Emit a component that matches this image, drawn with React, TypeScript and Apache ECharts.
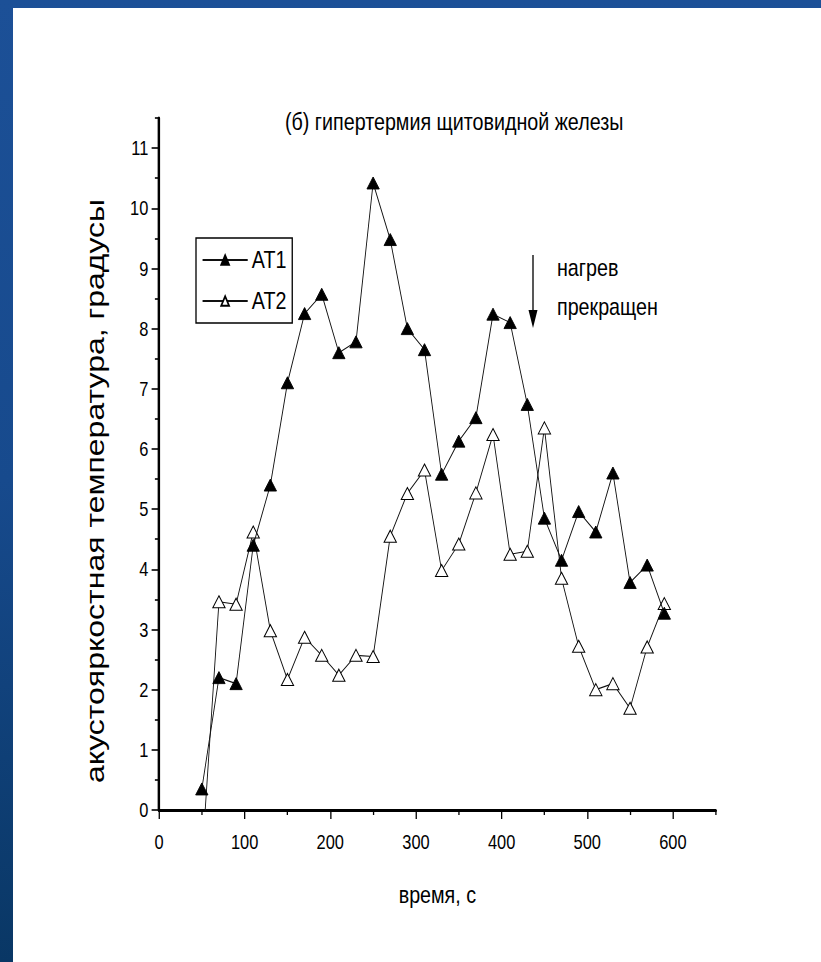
import React, { useEffect, useRef } from "react";
import * as echarts from "echarts";

const times = [50, 70, 90, 110, 130, 150, 170, 190, 210, 230, 250, 270, 290, 310, 330, 350, 370, 390, 410, 430, 450, 470, 490, 510, 530, 550, 570, 590];
const at1 = [0.35, 2.2, 2.1, 4.4, 5.4, 7.1, 8.25, 8.57, 7.6, 7.78, 10.42, 9.48, 8.0, 7.65, 5.58, 6.13, 6.52, 8.24, 8.1, 6.74, 4.85, 4.15, 4.96, 4.62, 5.6, 3.78, 4.07, 3.27];
const at2 = [-0.85, 3.46, 3.42, 4.62, 2.98, 2.17, 2.87, 2.57, 2.24, 2.57, 2.55, 4.55, 5.26, 5.65, 3.98, 4.42, 5.27, 6.24, 4.25, 4.3, 6.35, 3.85, 2.72, 2.0, 2.1, 1.69, 2.71, 3.43];
const xMajorTicks = [0, 100, 200, 300, 400, 500, 600];
const xMinorTicks = [50, 150, 250, 350, 450, 550, 650];
const yMajorTicks = [0, 1, 2, 3, 4, 5, 6, 7, 8, 9, 10, 11];
const yMinorTicks = [0.5, 1.5, 2.5, 3.5, 4.5, 5.5, 6.5, 7.5, 8.5, 9.5, 10.5, 11.5];
const seriesNames = ["AT1", "AT2"];
const titleText = "(б) гипертермия щитовидной железы";
const xName = "время, с";
const yName = "акустояркостная температура, градусы";
const noteLines = ["нагрев", "прекращен"];

// the original figure is horizontally compressed; draw in a wider frame and squeeze it
const SX = 0.821;
const W = 1000;
const H = 962;
const px = (x: number) => x / SX;

const FONT = "'Liberation Sans', Arial, Helvetica, sans-serif";

export default function App() {
  const ref = useRef<HTMLDivElement>(null);
  useEffect(() => {
    if (!ref.current) return;
    const chart = echarts.init(ref.current, null, { renderer: "svg" });
    const axisCommon = { type: "value", splitLine: { show: false } };
    const tickStyle = { color: "#000", width: 1.6 };
    chart.setOption({
      animation: false,
      backgroundColor: "transparent",
      title: {
        text: titleText,
        left: px(285),
        top: 110,
        padding: 0,
        textStyle: { fontFamily: FONT, fontSize: 24, fontWeight: "normal", color: "#000" },
      },
      legend: {
        orient: "vertical",
        left: px(196),
        top: 238,
        padding: [10, 7, 10, 7],
        itemGap: 17,
        itemWidth: 55,
        itemHeight: 12,
        borderColor: "#000",
        borderWidth: 1.6,
        borderRadius: 0,
        data: seriesNames,
        textStyle: { fontFamily: FONT, fontSize: 24, color: "#000" },
      },
      grid: { left: px(159), right: W - px(715.7), top: 118, bottom: 152, containLabel: false },
      xAxis: [
        {
          ...axisCommon,
          min: 0,
          max: 650,
          name: xName,
          nameLocation: "middle",
          nameGap: 73,
          nameTextStyle: { fontFamily: FONT, fontSize: 24, color: "#000" },
          axisLine: { show: true, lineStyle: { color: "#000", width: 3 } },
          axisTick: { show: true, customValues: xMajorTicks, length: 9, lineStyle: tickStyle },
          axisLabel: { customValues: xMajorTicks, margin: 22, fontFamily: FONT, fontSize: 20, color: "#000" },
        },
        {
          ...axisCommon,
          min: 0,
          max: 650,
          position: "bottom",
          axisLine: { show: false },
          axisTick: { show: true, customValues: xMinorTicks, length: 5, lineStyle: tickStyle },
          axisLabel: { show: false },
        },
      ],
      yAxis: [
        {
          ...axisCommon,
          min: 0,
          max: 11.5,
          name: yName,
          nameLocation: "middle",
          nameGap: 62,
          nameTextStyle: { fontFamily: FONT, fontSize: 32, color: "#000", padding: [0, 54, 0, 0] },
          axisLine: { show: true, lineStyle: { color: "#000", width: 3 } },
          axisTick: { show: true, customValues: yMajorTicks, length: 9, lineStyle: tickStyle },
          axisLabel: { customValues: yMajorTicks, margin: 13, fontFamily: FONT, fontSize: 20, color: "#000" },
        },
        {
          ...axisCommon,
          min: 0,
          max: 11.5,
          position: "left",
          axisLine: { show: false },
          axisTick: { show: true, customValues: yMinorTicks, length: 5, lineStyle: tickStyle },
          axisLabel: { show: false },
        },
      ],
      graphic: [
        {
          type: "rect",
          z: -20,
          shape: { x: 0, y: 0, width: W, height: H },
          style: {
            fill: new echarts.graphic.LinearGradient(0, 0, 0, 1, [
              { offset: 0, color: "#1c5097" },
              { offset: 0.5, color: "#174a8d" },
              { offset: 1, color: "#093765" },
            ]),
          },
        },
        { type: "rect", z: -19, shape: { x: px(13), y: 8, width: W, height: H }, style: { fill: "#ffffff" } },
        { type: "line", z: 10, shape: { x1: px(533), y1: 255, x2: px(533), y2: 314 }, style: { stroke: "#000", lineWidth: 1.6 } },
        { type: "polygon", z: 10, shape: { points: [[px(528.5), 310], [px(537.5), 310], [px(533), 328]] }, style: { fill: "#000" } },
        { type: "text", z: 10, x: px(557), y: 268, style: { text: noteLines[0], font: `24px ${FONT}`, fill: "#000", verticalAlign: "middle" } },
        { type: "text", z: 10, x: px(557), y: 307, style: { text: noteLines[1], font: `24px ${FONT}`, fill: "#000", verticalAlign: "middle" } },
      ],
      series: [
        {
          name: seriesNames[0],
          type: "line",
          data: times.map((t, i) => [t, at1[i]]),
          symbol: "triangle",
          symbolSize: [15, 12],
          clip: true,
          lineStyle: { color: "#111", width: 1.1 },
          itemStyle: { color: "#000", borderColor: "#000", borderWidth: 1 },
          z: 3,
        },
        {
          name: seriesNames[1],
          type: "line",
          data: times.map((t, i) => [t, at2[i]]),
          symbol: "triangle",
          symbolSize: [15, 12],
          clip: true,
          lineStyle: { color: "#111", width: 1.1 },
          itemStyle: { color: "#fff", borderColor: "#000", borderWidth: 1.1 },
          z: 2,
        },
      ],
    });
    return () => chart.dispose();
  }, []);
  return (
    <div style={{ position: "absolute", left: 0, top: 0, width: 821, height: H, overflow: "hidden" }}>
      <div
        ref={ref}
        style={{ width: W, height: H, transform: `scaleX(${SX})`, transformOrigin: "0 0" }}
      />
    </div>
  );
}
